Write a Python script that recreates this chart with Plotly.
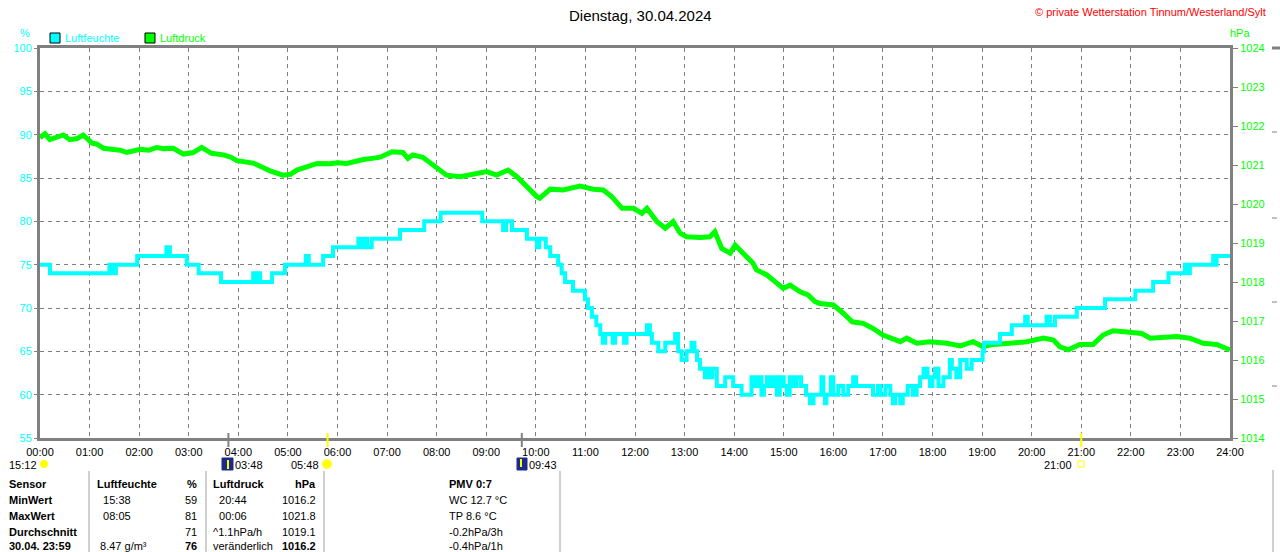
import plotly.graph_objects as go

# Messwerte Dienstag 30.04.2024 (Zeit in Stunden)
hum_time = [0.0, 0.2, 1.40, 1.43, 1.47, 1.50, 1.53, 1.96, 2.55, 2.62, 2.96, 3.20, 3.65,
            4.30, 4.36, 4.40, 4.44, 4.68, 4.94, 5.36, 5.42, 5.71, 5.91, 6.42, 6.47, 6.55,
            6.60, 6.69, 7.26, 7.75, 8.08, 8.92, 9.34, 9.40, 9.52, 9.82, 10.02, 10.07, 10.20,
            10.29, 10.45, 10.52, 10.59, 10.75, 10.99, 11.05, 11.13, 11.22, 11.30, 11.35,
            11.40, 11.55, 11.60, 11.78, 11.83, 12.24, 12.30, 12.34, 12.47, 12.61, 12.81,
            12.87, 12.94, 13.04, 13.14, 13.20, 13.25, 13.31, 13.41, 13.45, 13.51, 13.56,
            13.65, 13.82, 13.98, 14.15, 14.35, 14.42, 14.47, 14.55, 14.60, 14.66, 14.72,
            14.80, 14.86, 14.92, 15.00, 15.06, 15.12, 15.20, 15.26, 15.35, 15.45, 15.53,
            15.60, 15.76, 15.80, 15.83, 15.86, 15.95, 16.00, 16.10, 16.20, 16.30, 16.40,
            16.46, 16.80, 16.90, 16.95, 17.05, 17.15, 17.20, 17.25, 17.35, 17.40, 17.50,
            17.60, 17.68, 17.75, 17.82, 17.90, 17.95, 18.00, 18.05, 18.12, 18.22, 18.35,
            18.39, 18.48, 18.56, 18.69, 18.79, 19.01, 19.04, 19.36, 19.60, 19.87, 19.92,
            20.30, 20.37, 20.47, 20.91, 21.48, 22.09, 22.45, 22.76, 23.09, 23.12, 23.19,
            23.66, 23.70, 23.73, 24.0]
hum_value = [75, 74, 75, 74, 75, 74, 75, 76, 77, 76, 75, 74, 73,
             74, 73, 74, 73, 74, 75, 76, 75, 76, 77, 78, 77, 78,
             77, 78, 79, 80, 81, 80, 79, 80, 79, 78, 77, 78, 77,
             76, 75, 74, 73, 72, 71, 70, 69, 68, 67, 66,
             67, 66, 67, 66, 67, 68, 67, 66, 65, 66, 67,
             65, 64, 65, 66, 65, 64, 63, 62, 63, 62, 63,
             61, 62, 61, 60, 62, 61, 62, 60, 61, 62, 61,
             62, 60, 62, 61, 60, 62, 61, 62, 61, 60, 59,
             60, 62, 60, 59, 60, 62, 60, 61, 60, 61, 62,
             61, 60, 61, 60, 61, 60, 59, 60, 59, 60, 61,
             60, 61, 62, 63, 62, 61, 62, 63, 61, 62, 64,
             63, 62, 64, 63, 64, 65, 66, 67, 68, 69, 68,
             69, 68, 69, 70, 71, 72, 73, 74, 75, 74, 75,
             76, 75, 76, 76]

press_time = [0.00, 0.10, 0.20, 0.35, 0.47, 0.60, 0.75, 0.87, 1.05, 1.14, 1.28, 1.48, 1.62,
              1.75, 1.90, 2.02, 2.20, 2.35, 2.50, 2.69, 2.89, 3.09, 3.26, 3.46, 3.70, 3.85,
              3.97, 4.17, 4.30, 4.44, 4.64, 4.90, 5.05, 5.18, 5.38, 5.59, 5.85, 6.00, 6.19,
              6.35, 6.52, 6.70, 6.86, 7.10, 7.32, 7.42, 7.52, 7.72, 7.93, 8.07, 8.20, 8.47,
              8.67, 9.01, 9.21, 9.44, 9.62, 9.82, 10.02, 10.08, 10.29, 10.55, 10.89, 11.16,
              11.36, 11.53, 11.74, 11.97, 12.14, 12.24, 12.44, 12.61, 12.77, 12.91, 13.04,
              13.31, 13.51, 13.61, 13.75, 13.92, 14.02, 14.18, 14.38, 14.45, 14.66, 14.86,
              14.99, 15.13, 15.33, 15.49, 15.63, 15.73, 16.00, 16.20, 16.38, 16.60, 16.80,
              17.00, 17.18, 17.35, 17.48, 17.68, 17.95, 18.29, 18.56, 18.82, 19.02, 19.22,
              19.56, 19.90, 20.24, 20.44, 20.57, 20.74, 20.97, 21.24, 21.44, 21.64, 21.92,
              22.22, 22.39, 22.65, 22.93, 23.19, 23.46, 23.73, 24.00]
press_value = [1021.70, 1021.80, 1021.65, 1021.70, 1021.77, 1021.65, 1021.68, 1021.77, 1021.56,
               1021.54, 1021.43, 1021.40, 1021.38, 1021.32, 1021.36, 1021.40, 1021.38, 1021.45,
               1021.42, 1021.43, 1021.28, 1021.32, 1021.45, 1021.30, 1021.26, 1021.20, 1021.11,
               1021.09, 1021.05, 1020.97, 1020.85, 1020.74, 1020.76, 1020.87, 1020.96, 1021.04,
               1021.03, 1021.06, 1021.04, 1021.10, 1021.14, 1021.17, 1021.20, 1021.34, 1021.32,
               1021.17, 1021.26, 1021.20, 1021.00, 1020.83, 1020.74, 1020.70, 1020.74, 1020.83,
               1020.74, 1020.87, 1020.70, 1020.44, 1020.19, 1020.15, 1020.38, 1020.36, 1020.46,
               1020.38, 1020.36, 1020.19, 1019.89, 1019.89, 1019.76, 1019.89, 1019.55, 1019.38,
               1019.55, 1019.25, 1019.16, 1019.14, 1019.16, 1019.29, 1018.86, 1018.74, 1018.95,
               1018.74, 1018.48, 1018.31, 1018.18, 1017.97, 1017.84, 1017.92, 1017.75, 1017.67,
               1017.50, 1017.45, 1017.41, 1017.20, 1016.98, 1016.94, 1016.81, 1016.64, 1016.56,
               1016.47, 1016.56, 1016.43, 1016.47, 1016.43, 1016.36, 1016.47, 1016.34, 1016.40,
               1016.43, 1016.47, 1016.56, 1016.51, 1016.34, 1016.26, 1016.40, 1016.40, 1016.64,
               1016.75, 1016.72, 1016.68, 1016.56, 1016.58, 1016.60, 1016.56, 1016.43, 1016.40,
               1016.26]

hour_ticks = list(range(25))
hour_labels = ["%02d:00" % h for h in hour_ticks]
hum_ticks = [55, 60, 65, 70, 75, 80, 85, 90, 95, 100]
press_ticks = [1014, 1015, 1016, 1017, 1018, 1019, 1020, 1021, 1022, 1023, 1024]

# Sonne / Mond Zeiten (Stunden)
event_time = [3.8, 5.8, 9.717, 21.0]
event_color = ["#808080", "#ffff00", "#808080", "#ffff00"]

# Tabelle unten
table_rows = [
    ["Sensor", "Luftfeuchte", "%", "Luftdruck", "hPa", "PMV 0:7"],
    ["MinWert", "  15:38", "59", "  20:44", "1016.2", "WC 12.7 °C"],
    ["MaxWert", "  08:05", "81", "  00:06", "1021.8", "TP 8.6 °C"],
    ["Durchschnitt", "", "71", "^1.1hPa/h", "1019.1", "-0.2hPa/3h"],
    ["30.04. 23:59", " 8.47 g/m³", "76", "veränderlich", "1016.2", "-0.4hPa/1h"],
]

CYAN = "#00ffff"
GREEN = "#00ff00"
GRAY = "#808080"
FONT = "Liberation Sans"

# Pixel -> paper (Plotbereich 40..1230 x 48..438)
def px(x):
    return (x - 40) / 1190.0

def py(y):
    return (438 - y) / 390.0

fig = go.Figure()

fig.add_trace(go.Scatter(x=press_time, y=press_value, mode="lines", yaxis="y",
                         line=dict(color=GREEN, width=5), name="Luftdruck"))
fig.add_trace(go.Scatter(x=hum_time, y=hum_value, mode="lines", yaxis="y2",
                         line=dict(color=CYAN, width=4, shape="hv"), name="Luftfeuchte"))

ann = []

def txt(x, y, s, color="black", size=11, bold=False, anchor="left"):
    if bold:
        s = "<b>" + s + "</b>"
    ann.append(dict(x=px(x), y=py(y), xref="paper", yref="paper", text=s, showarrow=False,
                    xanchor=anchor, yanchor="middle", font=dict(color=color, size=size, family=FONT)))

txt(640, 15, "Dienstag, 30.04.2024", size=15, anchor="center")
txt(1268, 12, "© private Wetterstation Tinnum/Westerland/Sylt", color="#ff0000", anchor="right")
txt(25, 33, "%", color=CYAN, anchor="center")
txt(1240, 33, "hPa", color=GREEN, anchor="center")
txt(63, 38, "Luftfeuchte", color=CYAN)
txt(158, 38, "Luftdruck", color=GREEN)

# Zeiten unter der Achse
txt(39, 465, "15:12", anchor="right")
txt(233, 465, "03:48")
txt(321, 465, "05:48", anchor="right")
txt(527, 465, "09:43")
txt(1074, 465, "21:00", anchor="right")

# Tabelle
row_y = [484, 500, 516, 532, 546]
for i, row in enumerate(table_rows):
    y = row_y[i]
    head = i == 0
    txt(7, y, row[0], bold=True)
    txt(95, y, row[1], bold=head)
    txt(199, y, row[2], bold=head or i == 4, anchor="right")
    txt(211, y, row[3], bold=head)
    txt(318, y, row[4], bold=head or i == 4, anchor="right")
    txt(447, y, row[5], bold=head)

shapes = []

def box(x0, y0, x1, y1, fill, line="black", lw=1):
    shapes.append(dict(type="rect", xref="paper", yref="paper", x0=px(x0), x1=px(x1),
                       y0=py(y1), y1=py(y0), fillcolor=fill, line=dict(color=line, width=lw)))

def seg(x0, y0, x1, y1, color=GRAY, lw=1):
    shapes.append(dict(type="line", xref="paper", yref="paper", x0=px(x0), x1=px(x1),
                       y0=py(y0), y1=py(y1), line=dict(color=color, width=lw)))

# Legende
box(50, 33, 60, 43, CYAN)
box(145, 33, 155, 43, GREEN)

# Markierungen auf der Zeitachse
for t, c in zip(event_time, event_color):
    shapes.append(dict(type="line", xref="x", yref="paper", x0=t, x1=t, y0=py(433), y1=py(447),
                       line=dict(color=c, width=2)))

# kleine Symbole
shapes.append(dict(type="circle", xref="paper", yref="paper", x0=px(40), x1=px(48),
                   y0=py(468), y1=py(460), fillcolor="#ffff00", line=dict(width=0)))
box(222, 458, 233, 470, "#1c2a8c", line="#1c2a8c")
seg(228, 460, 228, 469, color="#ffff00", lw=2)
shapes.append(dict(type="circle", xref="paper", yref="paper", x0=px(322), x1=px(332),
                   y0=py(469), y1=py(459), fillcolor="#ffff00", line=dict(color="#ffffa0", width=1)))
box(517, 458, 527, 470, "#1c2a8c", line="#1c2a8c")
seg(521, 459, 521, 467, color="#ffff00", lw=2)
box(1078, 461, 1084, 467, "white", line="#ffff00")

# Tabellenlinien
for x in [89, 206, 324, 560]:
    seg(x, 471, x, 552, color="#a0a0a0")
seg(1273, 470, 1273, 552, color="#a0a0a0")

# Rest des naechsten Diagramms am rechten Rand
seg(1272, 48, 1280, 48, lw=3)
for y in [132, 218, 302, 386]:
    seg(1272, y, 1277, y)

fig.update_layout(
    width=1280, height=552,
    margin=dict(l=40, r=50, t=48, b=114),
    plot_bgcolor="white", paper_bgcolor="white",
    showlegend=False,
    font=dict(family=FONT, size=11, color="black"),
    xaxis=dict(range=[0, 24], tickvals=hour_ticks, ticktext=hour_labels, showgrid=True,
               gridcolor=GRAY, gridwidth=1, griddash="4px,4px", zeroline=False,
               showline=True, linecolor=GRAY, linewidth=3, mirror=True, ticks="",
               ticklabelstandoff=2, tickfont=dict(size=11, color="black")),
    yaxis=dict(range=[1014, 1024], tickvals=press_ticks, side="right", showgrid=False,
               zeroline=False, showline=True, linecolor=GRAY, linewidth=3, mirror=True,
               ticks="outside", ticklen=5, tickcolor=GRAY, tickfont=dict(size=11, color=GREEN)),
    yaxis2=dict(range=[55, 100], tickvals=hum_ticks, side="left", overlaying="y",
                showgrid=True, gridcolor=GRAY, gridwidth=1, griddash="4px,4px", zeroline=False,
                ticks="outside", ticklen=5, tickcolor=GRAY, tickfont=dict(size=11, color=CYAN)),
    annotations=ann,
    shapes=shapes,
)

# Seitenrand des Browsers entfernen, damit das Bild bei 0,0 beginnt
fig.write_html("out.html", config={"displayModeBar": False},
               post_script="document.body.style.margin='0';")
